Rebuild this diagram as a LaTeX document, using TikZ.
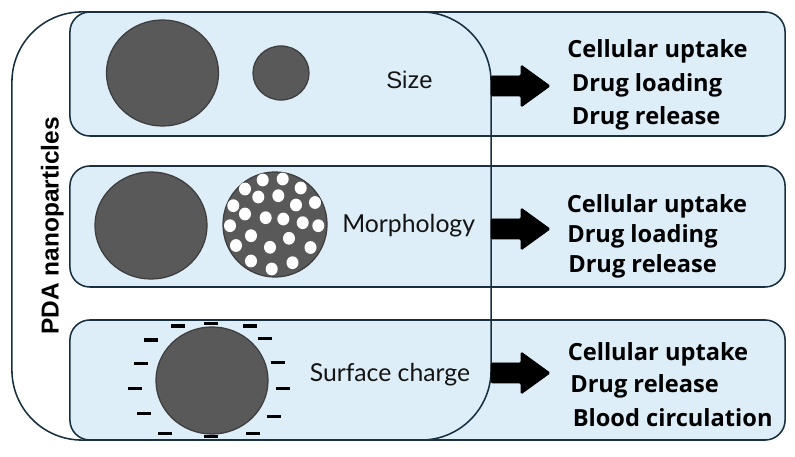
\documentclass[tikz,border=0pt]{standalone}
\usepackage{fontspec}
\setmainfont{Lato}
\newfontfamily\arialf{Liberation Sans}
\newfontfamily\resf{Open Sans}
\usetikzlibrary{shapes.geometric}
\definecolor{boxc}{RGB}{221,238,248}
\definecolor{bordc}{RGB}{24,48,64}
\definecolor{ballc}{RGB}{89,89,89}
\definecolor{balld}{RGB}{62,62,62}
\definecolor{txtc}{RGB}{20,20,20}
\begin{document}
\begin{tikzpicture}[x=0.025cm,y=-0.025cm,
  panel/.style={draw=bordc, line width=1.1pt, fill=boxc, rounded corners=0.5cm, minimum width=17.875cm, inner sep=0pt},
  frame/.style={draw=bordc, line width=1.1pt, rounded corners=1.75cm, minimum width=11.975cm, minimum height=10.7cm, inner sep=0pt},
  ball/.style={ellipse, fill=ballc, draw=balld, line width=0.9pt, inner sep=0pt},
  pore/.style={ellipse, fill=white, inner sep=0pt, minimum width=0.3cm, minimum height=0.32cm},
  charge/.style={line width=2.4pt, black},
  blockarrow/.style={fill=black, draw=black, line width=0.6pt, line join=round, rounded corners=1pt},
  lbl/.style={anchor=base west, inner sep=0pt, text=txtc, font=\fontsize{17.6}{20}\selectfont},
  res/.style={anchor=base west, inner sep=0pt, text=black, font=\resf\bfseries\fontsize{16.8}{19}\selectfont},
  ]
\useasboundingbox (0,0) rectangle (795,457);
% panels
\node[panel, minimum height=3.1cm] (p1) at (427.5,74) {};
\node[panel, minimum height=3.025cm] (p2) at (427.5,226.5) {};
\node[panel, minimum height=3.0cm] (p3) at (427.5,380) {};
% outer frame
\node[frame] (fr) at (251.5,226) {};
% title
\node[anchor=base, rotate=90, inner sep=0pt, font=\arialf\bfseries\fontsize{17.4}{20}\selectfont] (title) at (58.5,226) {PDA nanoparticles};
% row 1
\node[ball, minimum width=2.8cm, minimum height=2.65cm] (b1) at (162.5,73) {};
\node[ball, minimum width=1.4cm, minimum height=1.35cm] (s1) at (281,73) {};
\node[lbl, font=\arialf\fontsize{17}{20}\selectfont] (size) at (386,89) {Size};
% row 2
\node[ball, minimum width=2.8cm, minimum height=2.675cm] (b2) at (151,225.5) {};
\node[ball, minimum width=2.6cm, minimum height=2.625cm] (por) at (275,224.5) {};
\foreach \px/\py [count=\i] in {262.7/180,282.7/179,245/189,300.7/188,258.3/197,278.3/195.7,315/202.5,233.3/205.7,296/205,245/214,265.7/217.7,283.3/219,302.7/222.7,230/225.7,318.3/225.7,251/235.7,289/238.3,236/245.5,270/247.3,310.5/247.5,251/261,292.5/262.7,271.7/269}
  \node[pore] (pore\i) at (\px,\py) {};
\node[lbl] (morph) at (342,233) {Morphology};
% row 3
\node[ball, minimum width=2.8cm, minimum height=2.675cm] (b3) at (212,380.5) {};
\foreach \cx/\cy [count=\i] in {178.3/326,210.7/323.3,250/326,150.7/340,265/338.3,141/363.3,277.7/362.7,135/388.3,282.7/388.3,144/413.3,274/416.7,165/433.3,210.7/436.5,253.3/433.3}
  {\coordinate (m\i) at (\cx,\cy);
   \draw[charge] ([xshift=-0.175cm]m\i) -- ([xshift=0.175cm]m\i);}
\node[lbl] (surf) at (309.5,382) {Surface charge};
% arrows
\foreach \ay [count=\i] in {86,229,373}
  {\coordinate (a\i) at (491,\ay);
   \filldraw[blockarrow] (a\i) ++(0,-10) -- ++(30,0) -- ++(0,-11) -- ++(29,21) -- ++(-29,21) -- ++(0,-11) -- ++(-30,0) -- cycle;}
% results
\node[res] (r11) at (567,58) {Cellular uptake};
\node[res] (r12) at (571.5,92) {Drug loading};
\node[res] (r13) at (571.5,125) {Drug release};
\node[res] (r21) at (566.5,213) {Cellular uptake};
\node[res] (r22) at (567,243) {Drug loading};
\node[res] (r23) at (568,273) {Drug release};
\node[res] (r31) at (567.5,361) {Cellular uptake};
\node[res] (r32) at (570,393) {Drug release};
\node[res] (r33) at (572.5,427) {Blood circulation};
\end{tikzpicture}
\end{document}
